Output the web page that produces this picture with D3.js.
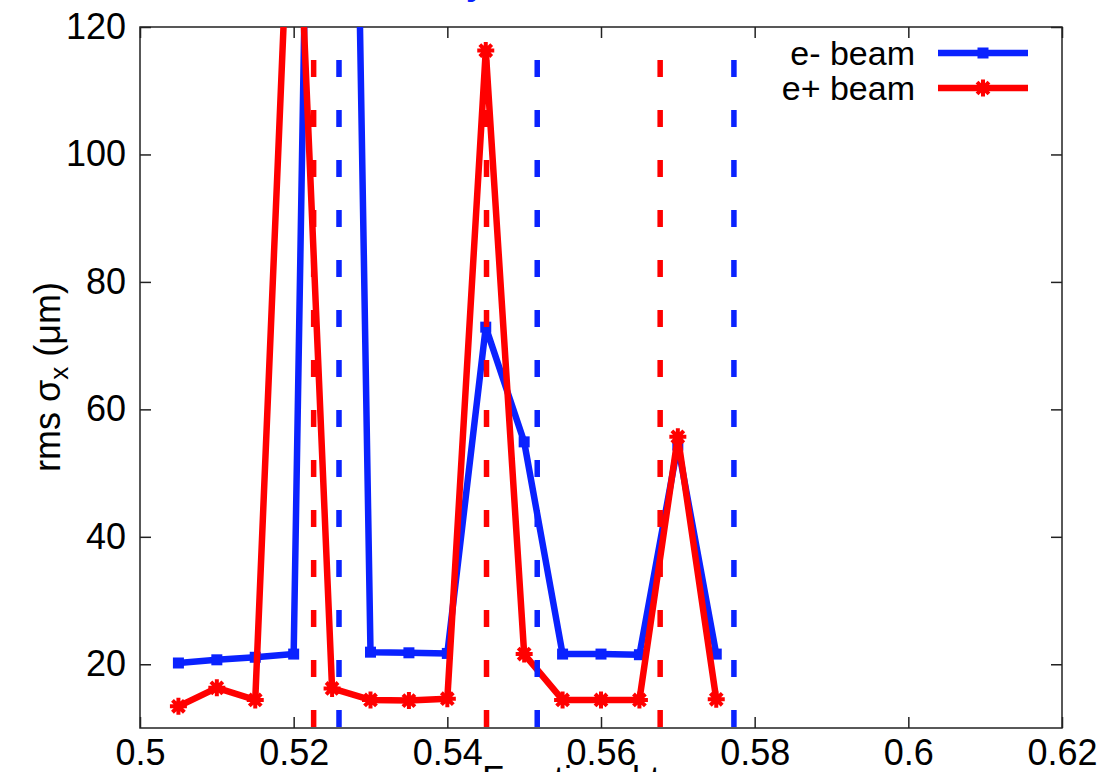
<!DOCTYPE html>
<html>
<head>
<meta charset="utf-8">
<script src="https://cdn.jsdelivr.net/npm/d3@7"></script>
<style>
  html, body { margin: 0; padding: 0; background: #fff; }
  svg { display: block; font-family: "Liberation Sans", Arial, sans-serif; }
</style>
</head>
<body>
<div id="chart"></div>
<script>
const width = 1110,
height = 772;

// data
const tunes = [0.505, 0.51, 0.515, 0.52, 0.525, 0.53, 0.535, 0.54, 0.545, 0.55, 0.555, 0.56, 0.565, 0.57, 0.575];
const eMinus = [20.2, 20.7, 21.1, 21.6, 380, 21.9, 21.8, 21.7, 72.9, 54.9, 21.6, 21.6, 21.5, 54.4, 21.6];
const ePlus = [13.4, 16.3, 14.4, 158, 16.2, 14.4, 14.3, 14.6, 116.3, 21.6, 14.4, 14.4, 14.4, 55.7, 14.5];

// vertical dashed markers
const ePlusLines = [0.5226, 0.5451, 0.5677];
const eMinusLines = [0.5259, 0.5517, 0.5773];

const xTicks = [0.5, 0.52, 0.54, 0.56, 0.58, 0.6, 0.62];
const yTicks = [20, 40, 60, 80, 100, 120];

const blue = "#0a22ff",
red = "#ff0000";

let margin = {top: 27, right: 48, bottom: 44, left: 140};

let x = d3.scaleLinear()
  .domain([0.5, 0.62])
  .range([margin.left, width - margin.right]);

let y = d3.scaleLinear()
  .domain([10, 120])
  .range([height - margin.bottom, margin.top]);

let svg = d3.select("#chart").append("svg")
  .attr("width", width)
  .attr("height", height);

svg.append("clipPath")
  .attr("id", "plotClip")
  .append("rect")
  .attr("x", x.range()[0])
  .attr("y", y.range()[1])
  .attr("width", x.range()[1] - x.range()[0])
  .attr("height", y.range()[0] - y.range()[1]);

// title, mostly above the visible area
svg.append("text")
  .attr("x", 485)
  .attr("y", -5)
  .attr("text-anchor", "end")
  .attr("fill", blue)
  .attr("font-size", 34)
  .attr("font-weight", "bold")
  .text("Luminosity");

// axes (ticks inward, mirrored)
const tickLen = 11;
let axisColor = "#222";

let gx = svg.append("g")
  .attr("transform", "translate(0," + y.range()[0] + ")")
  .call(d3.axisBottom(x).tickValues(xTicks).tickSize(-tickLen).tickPadding(11).tickFormat(d3.format("")));

let gxTop = svg.append("g")
  .attr("transform", "translate(0," + y.range()[1] + ")")
  .call(d3.axisTop(x).tickValues(xTicks).tickSize(-tickLen).tickFormat(""));

let gy = svg.append("g")
  .attr("transform", "translate(" + x.range()[0] + ",0)")
  .call(d3.axisLeft(y).tickValues(yTicks).tickSize(-tickLen).tickPadding(14));

let gyRight = svg.append("g")
  .attr("transform", "translate(" + x.range()[1] + ",0)")
  .call(d3.axisRight(y).tickValues(yTicks).tickSize(-tickLen).tickFormat(""));

[gx, gxTop, gy, gyRight].forEach(function(g) {
  g.select(".domain").remove();
  g.selectAll(".tick line").attr("stroke", axisColor).attr("stroke-width", 1.5);
  g.selectAll(".tick text")
    .attr("fill", "#000")
    .attr("font-size", 36)
    .attr("font-family", "Liberation Sans, Arial, sans-serif");
});

// border
svg.append("rect")
  .attr("x", x.range()[0])
  .attr("y", y.range()[1])
  .attr("width", x.range()[1] - x.range()[0])
  .attr("height", y.range()[0] - y.range()[1])
  .attr("fill", "none")
  .attr("stroke", axisColor)
  .attr("stroke-width", 1.5);

// axis labels
let yLabel = svg.append("text")
  .attr("transform", "translate(60,377) rotate(-90)")
  .attr("text-anchor", "middle")
  .attr("font-size", 36)
  .attr("fill", "#000");
yLabel.append("tspan").text("rms σ");
yLabel.append("tspan").attr("font-size", 26).attr("dy", 8).text("x");
yLabel.append("tspan").attr("dy", -8).text(" (μm)");

svg.append("text")
  .attr("x", (x.range()[0] + x.range()[1]) / 2)
  .attr("y", 792)
  .attr("text-anchor", "middle")
  .attr("font-size", 36)
  .attr("fill", "#000")
  .text("Fractional tune");

// data
let plot = svg.append("g").attr("clip-path", "url(#plotClip)");

let line = d3.line()
  .x(d => x(d[0]))
  .y(d => y(d[1]));

let bluePts = tunes.map((t, i) => [t, eMinus[i]]),
redPts = tunes.map((t, i) => [t, ePlus[i]]);

function squareMark(sel, color) {
  sel.append("rect")
    .attr("x", -5.5).attr("y", -5.5)
    .attr("width", 11).attr("height", 11)
    .attr("fill", color);
}

function starMark(sel, color) {
  let r = 8.5;
  sel.append("path")
    .attr("d", `M${-r},0H${r}M0,${-r}V${r}M${-r*0.7},${-r*0.7}L${r*0.7},${r*0.7}M${-r*0.7},${r*0.7}L${r*0.7},${-r*0.7}`)
    .attr("stroke", color)
    .attr("stroke-width", 4)
    .attr("fill", "none");
}

plot.append("path")
  .datum(bluePts)
  .attr("d", line)
  .attr("fill", "none")
  .attr("stroke", blue)
  .attr("stroke-width", 6.5)
  .attr("stroke-linejoin", "round");

plot.selectAll(".bmark")
  .data(bluePts)
  .join("g")
  .attr("class", "bmark")
  .attr("transform", d => "translate(" + x(d[0]) + "," + y(d[1]) + ")")
  .each(function() { squareMark(d3.select(this), blue); });

plot.append("path")
  .datum(redPts)
  .attr("d", line)
  .attr("fill", "none")
  .attr("stroke", red)
  .attr("stroke-width", 6.5)
  .attr("stroke-linejoin", "round");

plot.selectAll(".rmark")
  .data(redPts)
  .join("g")
  .attr("class", "rmark")
  .attr("transform", d => "translate(" + x(d[0]) + "," + y(d[1]) + ")")
  .each(function() { starMark(d3.select(this), red); });

// dashed resonance lines
function dashLines(vals, color) {
  plot.selectAll(null)
    .data(vals)
    .join("line")
    .attr("x1", d => x(d)).attr("x2", d => x(d))
    .attr("y1", y.range()[1]).attr("y2", y.range()[0])
    .attr("stroke", color)
    .attr("stroke-width", 5.5)
    .attr("stroke-dasharray", "17,33")
    .attr("stroke-dashoffset", 17);
}
dashLines(ePlusLines, red);
dashLines(eMinusLines, blue);

// legend
let legend = [
  {label: "e- beam", color: blue, mark: squareMark, y: 53},
  {label: "e+ beam", color: red, mark: starMark, y: 88}
];

let lg = svg.selectAll(".legend")
  .data(legend)
  .join("g")
  .attr("class", "legend")
  .attr("transform", d => "translate(0," + d.y + ")");

lg.append("text")
  .attr("x", 915)
  .attr("dy", "0.35em")
  .attr("text-anchor", "end")
  .attr("font-size", 34)
  .attr("fill", "#000")
  .text(d => d.label);

lg.append("line")
  .attr("x1", 938).attr("x2", 1028)
  .attr("stroke", d => d.color)
  .attr("stroke-width", 6.5);

lg.append("g")
  .attr("transform", "translate(983,0)")
  .each(function(d) { d.mark(d3.select(this), d.color); });
</script>
</body>
</html>
